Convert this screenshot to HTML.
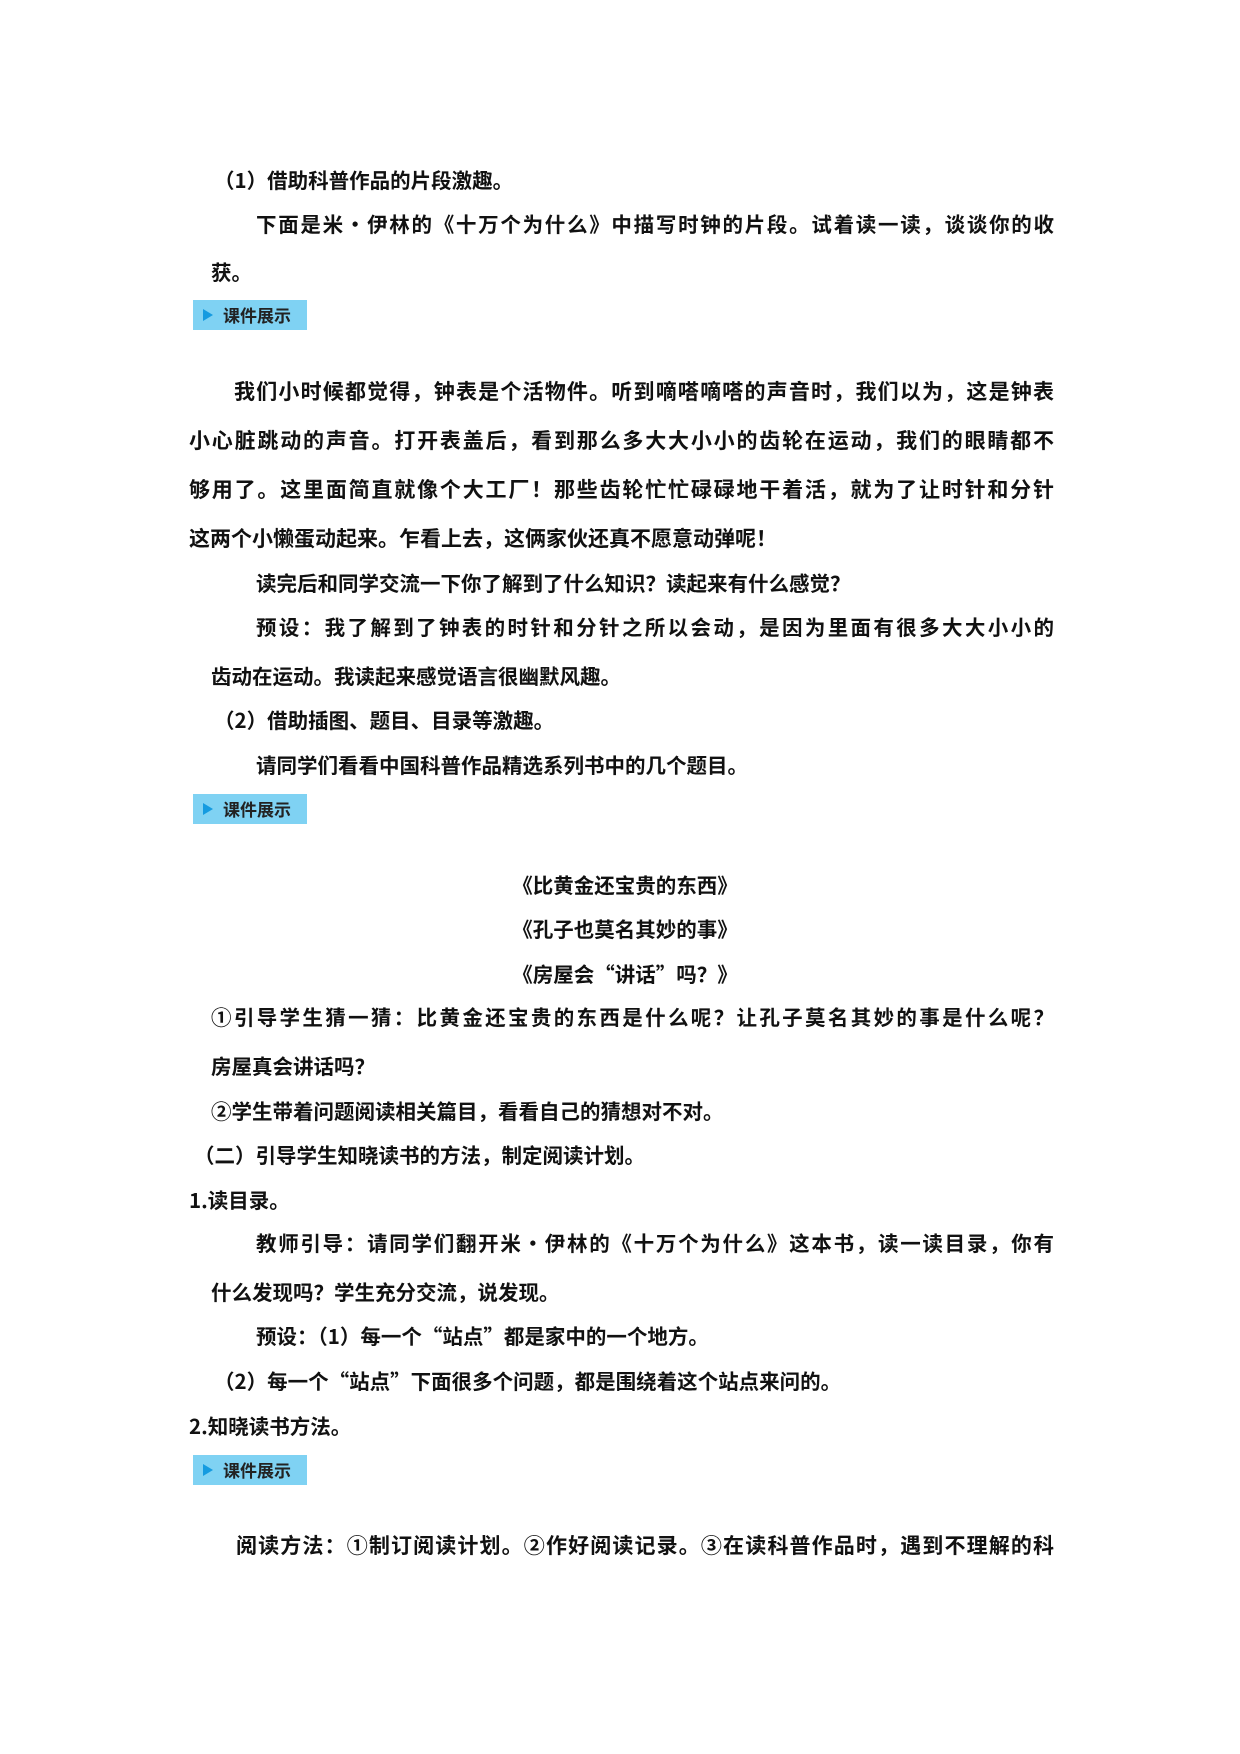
<!DOCTYPE html>
<html><head><meta charset="utf-8">
<style>
html,body{margin:0;padding:0;background:#fff;}
body{width:1240px;height:1754px;position:relative;overflow:hidden;
font-family:"Noto Sans CJK SC","Liberation Sans",sans-serif;color:#111;}
.l{position:absolute;font-size:20.5px;line-height:28px;height:28px;white-space:nowrap;font-weight:600;}
.j{right:186px;text-align:justify;text-align-last:justify;}
.p{font-size:21px;}
.c{left:0;right:0;text-align:center;padding-left:10px;}
.b{position:absolute;left:193px;width:114px;height:30px;background:#7fd2f3;}
.b:before{content:"";position:absolute;left:10px;top:9px;border-left:10px solid #159be0;border-top:6px solid transparent;border-bottom:6px solid transparent;}
.b span{position:absolute;left:30px;top:3px;font-size:17px;line-height:24px;font-weight:700;color:#222;font-family:"Noto Sans CJK SC",sans-serif;}
</style></head><body>
<div class="l" style="left:214px;top:165px">（1）借助科普作品的片段激趣。</div>
<div class="l j" style="left:256px;top:209px">下面是米·伊林的《十万个为什么》中描写时钟的片段。试着读一读，谈谈你的收</div>
<div class="l" style="left:211px;top:257px">获。</div>
<div class="b" style="top:300px"><span>课件展示</span></div>

<div class="l j p" style="left:234px;top:377px">我们小时候都觉得，钟表是个活物件。听到嘀嗒嘀嗒的声音时，我们以为，这是钟表</div>
<div class="l j p" style="left:189px;top:426px">小心脏跳动的声音。打开表盖后，看到那么多大大小小的齿轮在运动，我们的眼睛都不</div>
<div class="l j p" style="left:189px;top:475px">够用了。这里面简直就像个大工厂！那些齿轮忙忙碌碌地干着活，就为了让时针和分针</div>
<div class="l p" style="left:189px;top:524px">这两个小懒蛋动起来。乍看上去，这俩家伙还真不愿意动弹呢！</div>
<div class="l" style="left:256px;top:568px">读完后和同学交流一下你了解到了什么知识？读起来有什么感觉？</div>
<div class="l j" style="left:256px;top:612px">预设：我了解到了钟表的时针和分针之所以会动，是因为里面有很多大大小小的</div>
<div class="l" style="left:211px;top:661px">齿动在运动。我读起来感觉语言很幽默风趣。</div>
<div class="l" style="left:214px;top:705px">（2）借助插图、题目、目录等激趣。</div>
<div class="l" style="left:256px;top:750px">请同学们看看中国科普作品精选系列书中的几个题目。</div>
<div class="b" style="top:794px"><span>课件展示</span></div>

<div class="l c" style="top:870px">《比黄金还宝贵的东西》</div>
<div class="l c" style="top:914px">《孔子也莫名其妙的事》</div>
<div class="l c" style="top:959px">《房屋会“讲话”吗？》</div>
<div class="l j" style="left:211px;top:1002px">①引导学生猜一猜：比黄金还宝贵的东西是什么呢？让孔子莫名其妙的事是什么呢？</div>
<div class="l" style="left:211px;top:1051px">房屋真会讲话吗？</div>
<div class="l" style="left:211px;top:1096px">②学生带着问题阅读相关篇目，看看自己的猜想对不对。</div>
<div class="l" style="left:194px;top:1140px">（二）引导学生知晓读书的方法，制定阅读计划。</div>
<div class="l" style="left:189px;top:1185px">1.读目录。</div>
<div class="l j" style="left:256px;top:1228px">教师引导：请同学们翻开米·伊林的《十万个为什么》这本书，读一读目录，你有</div>
<div class="l" style="left:211px;top:1277px">什么发现吗？学生充分交流，说发现。</div>
<div class="l" style="left:256px;top:1321px">预设：（1）每一个“站点”都是家中的一个地方。</div>
<div class="l" style="left:214px;top:1366px">（2）每一个“站点”下面很多个问题，都是围绕着这个站点来问的。</div>
<div class="l" style="left:189px;top:1411px">2.知晓读书方法。</div>
<div class="b" style="top:1455px"><span>课件展示</span></div>
<div class="l j p" style="left:236px;top:1531px">阅读方法：①制订阅读计划。②作好阅读记录。③在读科普作品时，遇到不理解的科</div>
</body></html>
